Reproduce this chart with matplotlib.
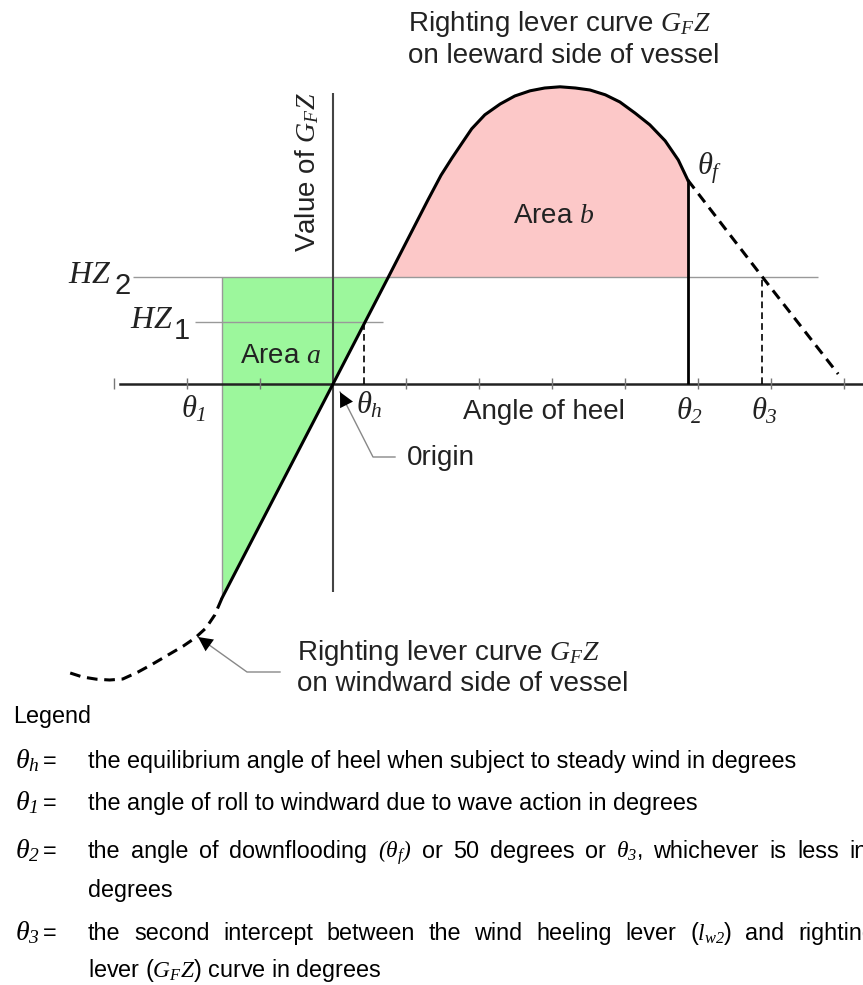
import numpy as np
import matplotlib.pyplot as plt

plt.rcParams['font.family'] = ['Liberation Sans', 'DejaVu Sans']
plt.rcParams['mathtext.fontset'] = 'custom'
plt.rcParams['mathtext.rm'] = 'Liberation Serif:italic'
plt.rcParams['mathtext.it'] = 'Liberation Serif:italic'
plt.rcParams['mathtext.fallback'] = 'stix'

# righting lever curve G_F Z on leeward side (solid part), heel in degrees, GZ in m
heel = np.array([-15.2, 0, 7.6, 13.0, 14.8, 16.3, 17.7, 19.0, 20.8, 22.9, 24.9, 27.0, 29.0,
                 31.1, 33.2, 35.2, 37.3, 39.3, 41.4, 43.4, 45.5, 47.3, 48.6])
gz = np.array([-0.535, 0, 0.268, 0.46, 0.522, 0.565, 0.603, 0.638, 0.673, 0.70, 0.72, 0.733,
               0.74, 0.743, 0.74, 0.735, 0.723, 0.705, 0.677, 0.648, 0.608, 0.56, 0.51])
# past the downflooding angle (dashed)
heel_flood = [48.6, 58.8, 69.2]
gz_flood = [0.51, 0.268, 0.025]
# windward side (dashed)
heel_wind = [-36.0, -34.3, -32.4, -30.6, -28.8, -26.7, -24.7, -22.6, -20.5, -18.9, -17.4,
             -16.2, -15.2]
gz_wind = [-0.7225, -0.7325, -0.738, -0.74, -0.7375, -0.72, -0.70, -0.6775, -0.655, -0.635,
           -0.61, -0.5775, -0.535]

hz1, hz2 = 0.155, 0.268
theta_h, theta_1, theta_2, theta_3 = 4.3, -15.2, 48.6, 58.8
ticks = [-30, -20, -10, 10, 20, 30, 40, 50, 60, 70]

W, H = 863, 985
fig = plt.figure(figsize=(W / 100, H / 100), dpi=100)
ax = fig.add_axes([0, 0, 1, 1])
ax.axis('off')


def P(x, y):
    # picture pixel -> data coords
    return (x - 333) / 7.3, (384 - y) / 400


ax.set_xlim(P(0, 0)[0], P(W, 0)[0])
ax.set_ylim(P(0, H)[1], P(0, 0)[1])

# areas
ax.fill_between(heel[:3], gz[:3], hz2, color='#9cf79c', lw=0, zorder=1)
m = (heel >= heel[2]) & (heel <= theta_2)
ax.fill_between(heel[m], gz[m], hz2, color='#fcc8c8', lw=0, zorder=1)

# wind heeling levers
ax.hlines(hz2, P(133, 0)[0], P(818, 0)[0], color='#999999', lw=1, zorder=2)
ax.hlines(hz1, P(195, 0)[0], P(383, 0)[0], color='#999999', lw=1, zorder=2)
ax.vlines(theta_1, gz[0], hz2, color='#999999', lw=1, zorder=2)

# axes
ax.axhline(0, xmin=120 / W, xmax=1, color='#222222', lw=1.8, zorder=3)
ax.vlines(0, P(0, 592)[1], P(0, 93)[1], color='#444444', lw=1.5, zorder=3)
ax.vlines(ticks, -0.012, 0.015, color='#777777', lw=1, zorder=3)

# angle markers
ax.vlines(theta_2, 0, gz[-1], color='black', lw=2, zorder=4)
ax.vlines(theta_3, 0, hz2, color='black', lw=1.2, linestyles=(0, (4, 2.5)), zorder=4)
ax.vlines(theta_h, 0, hz1, color='black', lw=1.2, linestyles=(0, (4, 2.5)), zorder=4)

# curves
ax.plot(heel, gz, color='black', lw=2.2, zorder=5, solid_joinstyle='round')
ax.plot(heel_flood, gz_flood, color='black', lw=2.2, dashes=(3.5, 2.2), zorder=5)
ax.plot(heel_wind, gz_wind, color='black', lw=2.2, dashes=(3.5, 2.2), zorder=5)


# callouts
def callout(tip, knee, end):
    pts = [P(*tip), P(*knee), P(*end)]
    ax.plot([p[0] for p in pts], [p[1] for p in pts], color='#888888', lw=1, zorder=4)
    ax.annotate('', xy=pts[0], xytext=pts[1],
                arrowprops=dict(arrowstyle='-|>', color='black', lw=0, mutation_scale=26,
                                shrinkA=0, shrinkB=0), zorder=6)


callout((340, 392), (373, 457), (395, 457))
callout((198, 637), (247, 672), (280, 672))


def txt(x, y, s, size=20, **kw):
    ax.text(*P(x, y), s, fontsize=size, va='baseline', color='#222222', **kw)


txt(408, 31, r'Righting lever curve $G_FZ$')
txt(408, 63, 'on leeward side of vessel')
txt(297, 660, r'Righting lever curve $G_FZ$')
txt(297, 691, 'on windward side of vessel')
txt(513, 223, r'Area $b$')
txt(240, 363, r'Area $a$')
txt(463, 419, 'Angle of heel')
txt(407, 465, '0rigin')
ax.text(*P(307, 172), r'Value of $G_FZ$', fontsize=20, rotation=90, ha='center', va='center',
        color='#222222')

txt(68, 283, r'$HZ$', size=23)
txt(114, 294, '2', size=21)
txt(130, 328, r'$HZ$', size=23)
txt(174, 339, '1', size=21)

txt(181, 418, r'$\theta_1$', size=22)
txt(356, 413, r'$\theta_h$', size=22)
txt(676, 420, r'$\theta_2$', size=22)
txt(751, 420, r'$\theta_3$', size=22)
txt(697, 175, r'$\theta_f$', size=22)


# legend
def ftxt(x, y, s, size=16.8):
    return fig.text(x / W, 1 - y / H, s, fontsize=size, va='baseline', color='black')


ftxt(13, 723, 'Legend')
rows = [(768, r'$\theta_h$'), (810, r'$\theta_1$'), (858, r'$\theta_2$'), (940, r'$\theta_3$')]
for y, s in rows:
    ftxt(15, y, s, size=20)
    ftxt(43, y, '=')

ftxt(88, 768, 'the equilibrium angle of heel when subject to steady wind in degrees')
ftxt(88, 810, 'the angle of roll to windward due to wave action in degrees')
ftxt(88, 897, 'degrees')
ftxt(88, 977, r'lever ($G_FZ$) curve in degrees')

renderer = fig.canvas.get_renderer()


def justified(words, y, idx, anchor):
    ts = [ftxt(88, y, w) for w in words]
    ws = [t.get_window_extent(renderer).width for t in ts]
    gap = (anchor - 88 - sum(ws[:idx])) / idx
    x = 88
    for t, w in zip(ts, ws):
        t.set_x(x / W)
        x += w + gap


justified(['the', 'angle', 'of', 'downflooding', r'$(\theta_f)$', 'or', '50', 'degrees', 'or',
           r'$\theta_3$,', 'whichever', 'is', 'less', 'in'], 858, 12, 797)
justified(['the', 'second', 'intercept', 'between', 'the', 'wind', 'heeling', 'lever',
           r'($l_{w2}$)', 'and', 'righting'], 940, 10, 798)

fig.savefig('out.png', dpi=100)
